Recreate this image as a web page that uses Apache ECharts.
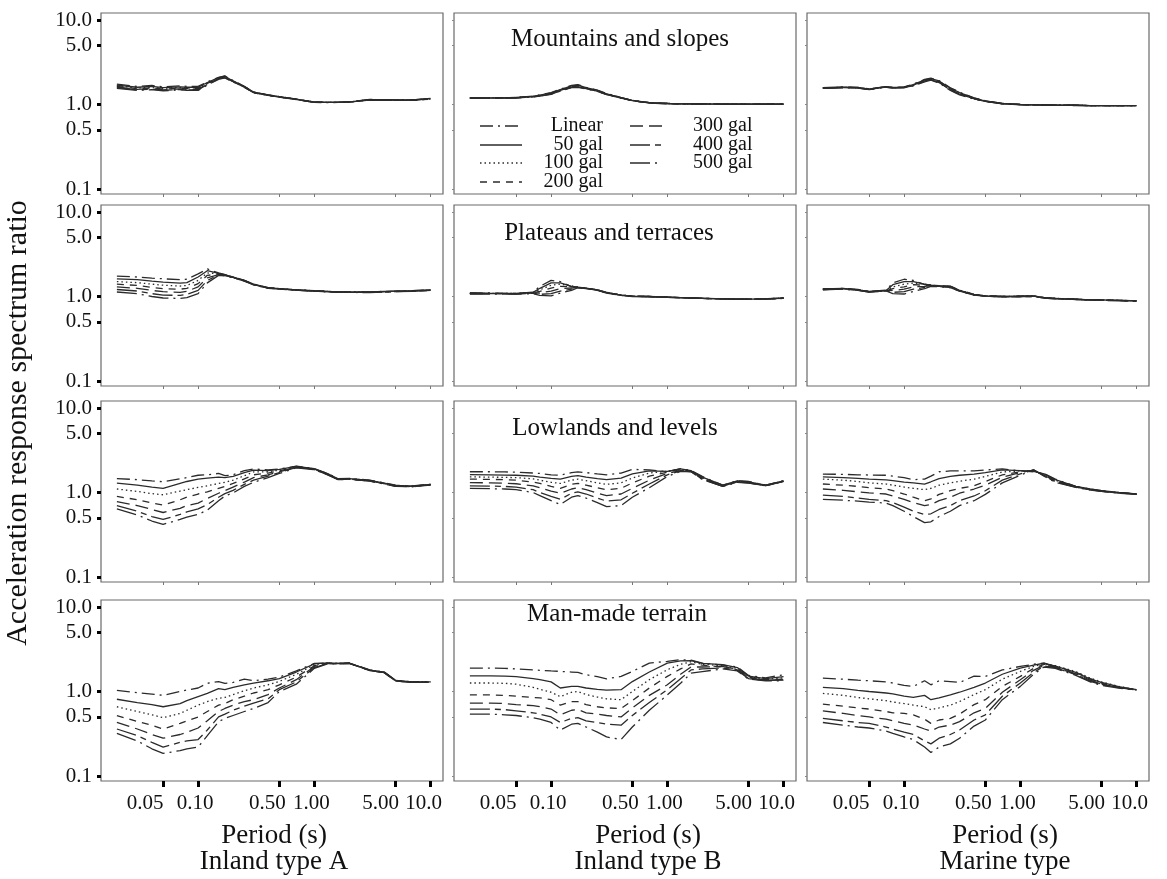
<!DOCTYPE html>
<html>
<head>
<meta charset="utf-8">
<script src="https://cdn.jsdelivr.net/npm/echarts@6/dist/echarts.min.js"></script>
<style>
  html, body { margin: 0; padding: 0; background: #fff; }
  #main { width: 1167px; height: 879px; }
</style>
</head>
<body>
<div id="main"></div>
<script>
const periods = [0.02, 0.03, 0.04, 0.05, 0.07, 0.08, 0.1, 0.12, 0.15, 0.17, 0.2, 0.25, 0.3, 0.4, 0.5, 0.7, 1.0, 1.3, 1.6, 2, 3, 4, 5, 7, 10];
const levels = ['Linear', '50 gal', '100 gal', '200 gal', '300 gal', '400 gal', '500 gal'];
const terrains = ['Mountains and slopes', 'Plateaus and terraces', 'Lowlands and levels', 'Man-made terrain'];
const quakeTypes = ['Inland type A', 'Inland type B', 'Marine type'];
const xTickValues = [0.05, 0.1, 0.5, 1, 5, 10];
const xTickLabels = ['0.05', '0.10', '0.50', '1.00', '5.00', '10.0'];
const yTickValues = [0.1, 0.5, 1, 5, 10];
const yTickLabels = ['0.1', '0.5', '1.0', '5.0', '10.0'];

// spectrum ratios, one row per level (Linear, 50 ... 500 gal)
const mountainsA = [
  [1.74,1.64,1.68,1.62,1.66,1.64,1.64,1.85,2.10,2.18,1.92,1.64,1.41,1.30,1.24,1.16,1.07,1.06,1.06,1.07,1.15,1.14,1.13,1.13,1.18],
  [1.70,1.60,1.64,1.58,1.62,1.60,1.60,1.82,2.08,2.16,1.90,1.63,1.40,1.30,1.24,1.16,1.07,1.06,1.06,1.07,1.14,1.14,1.13,1.13,1.18],
  [1.67,1.57,1.61,1.55,1.59,1.57,1.57,1.80,2.06,2.14,1.89,1.62,1.40,1.29,1.23,1.15,1.07,1.06,1.06,1.07,1.14,1.13,1.13,1.13,1.17],
  [1.64,1.54,1.58,1.52,1.56,1.54,1.54,1.78,2.04,2.12,1.88,1.62,1.39,1.29,1.23,1.15,1.07,1.06,1.06,1.07,1.14,1.13,1.12,1.13,1.17],
  [1.61,1.51,1.55,1.49,1.53,1.51,1.51,1.75,2.02,2.10,1.87,1.61,1.39,1.29,1.23,1.15,1.06,1.06,1.06,1.07,1.14,1.13,1.12,1.12,1.17],
  [1.58,1.49,1.52,1.47,1.51,1.49,1.49,1.73,2.00,2.08,1.86,1.60,1.38,1.28,1.22,1.15,1.06,1.06,1.06,1.07,1.13,1.13,1.12,1.12,1.16],
  [1.55,1.47,1.50,1.45,1.49,1.47,1.47,1.70,1.98,2.06,1.85,1.60,1.38,1.28,1.22,1.14,1.06,1.05,1.06,1.07,1.13,1.12,1.12,1.12,1.16]
];
const mountainsB = [
  [1.20,1.20,1.20,1.21,1.26,1.30,1.38,1.52,1.68,1.72,1.60,1.48,1.35,1.21,1.12,1.05,1.03,1.02,1.02,1.02,1.01,1.01,1.01,1.01,1.01],
  [1.20,1.20,1.20,1.21,1.25,1.29,1.37,1.50,1.66,1.70,1.58,1.47,1.34,1.21,1.12,1.05,1.03,1.02,1.02,1.02,1.01,1.01,1.01,1.01,1.01],
  [1.20,1.20,1.20,1.21,1.25,1.28,1.36,1.49,1.64,1.68,1.57,1.46,1.33,1.20,1.12,1.05,1.03,1.02,1.02,1.02,1.01,1.01,1.01,1.01,1.01],
  [1.20,1.20,1.20,1.21,1.24,1.27,1.35,1.47,1.62,1.66,1.56,1.45,1.33,1.20,1.11,1.05,1.03,1.02,1.02,1.02,1.01,1.01,1.01,1.01,1.01],
  [1.19,1.19,1.20,1.20,1.24,1.27,1.34,1.46,1.61,1.64,1.55,1.44,1.32,1.20,1.11,1.05,1.03,1.02,1.02,1.02,1.01,1.01,1.01,1.01,1.01],
  [1.19,1.19,1.19,1.20,1.23,1.26,1.33,1.45,1.60,1.62,1.54,1.44,1.32,1.19,1.11,1.04,1.02,1.02,1.02,1.01,1.01,1.01,1.01,1.01,1.01],
  [1.19,1.19,1.19,1.20,1.23,1.26,1.32,1.44,1.58,1.60,1.53,1.43,1.31,1.19,1.11,1.04,1.02,1.02,1.01,1.01,1.01,1.01,1.01,1.01,1.01]
];
const mountainsM = [
  [1.58,1.61,1.59,1.53,1.63,1.59,1.62,1.74,1.98,2.05,1.92,1.58,1.40,1.20,1.11,1.03,1.00,0.99,0.99,0.98,0.98,0.97,0.97,0.97,0.97],
  [1.58,1.61,1.59,1.52,1.63,1.59,1.61,1.72,1.96,2.03,1.90,1.56,1.38,1.19,1.10,1.03,1.00,0.99,0.99,0.98,0.98,0.97,0.97,0.97,0.97],
  [1.57,1.60,1.58,1.52,1.62,1.58,1.60,1.71,1.94,2.02,1.88,1.54,1.37,1.19,1.10,1.02,1.00,0.99,0.99,0.98,0.98,0.97,0.97,0.97,0.97],
  [1.57,1.60,1.58,1.52,1.62,1.58,1.60,1.70,1.92,2.00,1.86,1.52,1.35,1.18,1.10,1.02,1.00,0.99,0.99,0.98,0.98,0.97,0.97,0.97,0.97],
  [1.56,1.59,1.57,1.51,1.61,1.57,1.59,1.69,1.90,1.98,1.84,1.50,1.33,1.17,1.09,1.02,1.00,0.99,0.99,0.98,0.98,0.97,0.97,0.97,0.97],
  [1.56,1.59,1.57,1.51,1.61,1.57,1.58,1.67,1.88,1.96,1.82,1.49,1.32,1.17,1.09,1.02,1.00,0.99,0.98,0.98,0.98,0.97,0.97,0.97,0.97],
  [1.55,1.58,1.56,1.50,1.60,1.56,1.58,1.66,1.85,1.94,1.80,1.47,1.30,1.16,1.09,1.02,0.99,0.99,0.98,0.98,0.97,0.97,0.97,0.97,0.97]
];
const plateausA = [
  [1.74,1.70,1.65,1.62,1.58,1.60,1.85,2.12,1.90,1.82,1.70,1.55,1.40,1.27,1.24,1.20,1.17,1.15,1.13,1.13,1.13,1.15,1.16,1.17,1.20],
  [1.62,1.58,1.52,1.48,1.44,1.46,1.70,2.02,1.88,1.81,1.70,1.55,1.40,1.27,1.24,1.20,1.17,1.15,1.13,1.13,1.13,1.15,1.16,1.17,1.20],
  [1.50,1.46,1.40,1.36,1.33,1.35,1.55,1.90,1.86,1.80,1.69,1.54,1.39,1.27,1.24,1.20,1.17,1.15,1.13,1.13,1.13,1.14,1.15,1.17,1.19],
  [1.40,1.35,1.28,1.24,1.22,1.25,1.42,1.78,1.84,1.79,1.69,1.54,1.39,1.26,1.23,1.20,1.16,1.14,1.13,1.12,1.12,1.14,1.15,1.16,1.19],
  [1.30,1.25,1.18,1.14,1.12,1.15,1.30,1.66,1.82,1.78,1.68,1.53,1.38,1.26,1.23,1.19,1.16,1.14,1.12,1.12,1.12,1.14,1.15,1.16,1.18],
  [1.21,1.16,1.08,1.04,1.03,1.06,1.18,1.55,1.80,1.77,1.68,1.53,1.38,1.26,1.23,1.19,1.16,1.14,1.12,1.12,1.12,1.13,1.14,1.16,1.18],
  [1.13,1.08,1.00,0.96,0.95,0.97,1.08,1.45,1.78,1.76,1.67,1.52,1.37,1.25,1.22,1.19,1.16,1.14,1.12,1.12,1.11,1.13,1.14,1.15,1.18]
];
const plateausB = [
  [1.10,1.10,1.09,1.09,1.13,1.32,1.55,1.50,1.30,1.29,1.26,1.20,1.12,1.04,1.01,1.00,0.98,0.97,0.96,0.95,0.94,0.93,0.93,0.94,0.96],
  [1.10,1.09,1.09,1.09,1.12,1.25,1.45,1.45,1.32,1.29,1.26,1.20,1.12,1.04,1.01,1.00,0.98,0.97,0.96,0.95,0.94,0.93,0.93,0.94,0.96],
  [1.09,1.09,1.09,1.09,1.12,1.20,1.36,1.40,1.34,1.29,1.25,1.20,1.12,1.04,1.01,1.00,0.98,0.97,0.96,0.95,0.94,0.93,0.93,0.94,0.96],
  [1.09,1.09,1.08,1.08,1.11,1.15,1.26,1.32,1.30,1.28,1.25,1.19,1.11,1.04,1.01,1.00,0.98,0.97,0.96,0.95,0.94,0.93,0.93,0.94,0.96],
  [1.08,1.08,1.08,1.08,1.10,1.10,1.16,1.24,1.26,1.28,1.25,1.19,1.11,1.03,1.01,1.00,0.98,0.97,0.96,0.95,0.94,0.93,0.93,0.94,0.95],
  [1.08,1.08,1.08,1.07,1.09,1.06,1.08,1.16,1.22,1.27,1.24,1.19,1.11,1.03,1.01,0.99,0.98,0.97,0.96,0.95,0.94,0.93,0.93,0.94,0.95],
  [1.07,1.07,1.07,1.07,1.08,1.03,1.02,1.10,1.18,1.27,1.24,1.18,1.10,1.03,1.00,0.99,0.98,0.97,0.96,0.95,0.94,0.93,0.93,0.93,0.95]
];
const plateausM = [
  [1.23,1.25,1.21,1.15,1.19,1.45,1.60,1.55,1.38,1.36,1.34,1.33,1.19,1.06,1.02,1.00,1.01,1.02,0.97,0.95,0.93,0.91,0.91,0.90,0.89],
  [1.23,1.25,1.20,1.15,1.18,1.38,1.50,1.50,1.40,1.36,1.34,1.32,1.18,1.05,1.02,1.00,1.01,1.02,0.97,0.95,0.93,0.91,0.91,0.90,0.89],
  [1.22,1.24,1.20,1.14,1.18,1.30,1.40,1.44,1.40,1.36,1.33,1.31,1.18,1.05,1.02,1.00,1.01,1.01,0.97,0.95,0.93,0.91,0.91,0.90,0.89],
  [1.22,1.24,1.20,1.14,1.17,1.24,1.30,1.38,1.36,1.35,1.33,1.30,1.17,1.05,1.02,1.00,1.00,1.01,0.97,0.95,0.93,0.91,0.91,0.90,0.89],
  [1.21,1.23,1.19,1.14,1.17,1.18,1.22,1.30,1.32,1.34,1.32,1.29,1.17,1.05,1.01,1.00,1.00,1.01,0.96,0.95,0.93,0.91,0.90,0.90,0.89],
  [1.21,1.23,1.19,1.13,1.16,1.12,1.14,1.22,1.28,1.33,1.32,1.28,1.16,1.04,1.01,0.99,1.00,1.00,0.96,0.94,0.92,0.91,0.90,0.90,0.88],
  [1.20,1.22,1.18,1.13,1.16,1.08,1.07,1.15,1.24,1.32,1.31,1.27,1.16,1.04,1.01,0.99,1.00,1.00,0.96,0.94,0.92,0.91,0.90,0.89,0.88]
];
const lowlandsA = [
  [1.46,1.42,1.37,1.34,1.45,1.50,1.60,1.62,1.68,1.58,1.62,1.82,1.90,1.85,1.90,2.05,1.92,1.68,1.46,1.47,1.40,1.30,1.22,1.20,1.26],
  [1.29,1.22,1.16,1.12,1.28,1.35,1.44,1.48,1.52,1.50,1.55,1.72,1.84,1.82,1.88,2.04,1.91,1.67,1.45,1.46,1.39,1.29,1.21,1.19,1.25],
  [1.10,1.03,0.97,0.94,1.04,1.08,1.15,1.20,1.28,1.32,1.40,1.58,1.75,1.76,1.84,2.03,1.90,1.66,1.44,1.46,1.39,1.28,1.20,1.19,1.24],
  [0.90,0.82,0.75,0.71,0.82,0.88,0.96,1.02,1.12,1.18,1.28,1.45,1.62,1.70,1.80,2.02,1.89,1.65,1.44,1.45,1.38,1.28,1.20,1.18,1.24],
  [0.78,0.70,0.63,0.58,0.65,0.70,0.75,0.85,0.98,1.05,1.16,1.33,1.50,1.62,1.76,2.00,1.88,1.64,1.43,1.44,1.37,1.27,1.19,1.18,1.23],
  [0.70,0.60,0.52,0.48,0.55,0.59,0.64,0.72,0.88,0.97,1.06,1.25,1.40,1.56,1.72,1.98,1.87,1.63,1.43,1.44,1.37,1.27,1.19,1.17,1.23],
  [0.64,0.54,0.46,0.42,0.48,0.51,0.55,0.62,0.80,0.91,0.99,1.18,1.32,1.50,1.68,1.96,1.86,1.62,1.42,1.43,1.36,1.26,1.18,1.17,1.22]
];
const lowlandsB = [
  [1.76,1.76,1.75,1.74,1.70,1.68,1.62,1.60,1.72,1.75,1.72,1.66,1.62,1.70,1.88,1.85,1.76,1.92,1.82,1.55,1.22,1.38,1.35,1.22,1.38],
  [1.63,1.62,1.61,1.60,1.56,1.52,1.47,1.44,1.55,1.58,1.52,1.46,1.42,1.48,1.66,1.80,1.78,1.90,1.81,1.52,1.22,1.37,1.34,1.22,1.37],
  [1.53,1.52,1.51,1.50,1.45,1.40,1.32,1.28,1.40,1.44,1.38,1.30,1.25,1.30,1.48,1.70,1.78,1.88,1.80,1.50,1.21,1.36,1.33,1.21,1.37],
  [1.44,1.43,1.42,1.40,1.33,1.28,1.18,1.12,1.25,1.28,1.22,1.14,1.08,1.12,1.30,1.56,1.74,1.86,1.79,1.48,1.20,1.35,1.32,1.21,1.36],
  [1.31,1.30,1.29,1.27,1.20,1.14,1.04,0.98,1.10,1.14,1.08,0.98,0.92,0.96,1.12,1.40,1.68,1.82,1.78,1.46,1.19,1.34,1.31,1.21,1.36],
  [1.20,1.19,1.18,1.16,1.08,1.00,0.90,0.83,0.98,1.02,0.96,0.86,0.79,0.82,0.98,1.26,1.62,1.80,1.77,1.44,1.18,1.33,1.30,1.20,1.35],
  [1.12,1.11,1.10,1.08,1.00,0.92,0.80,0.72,0.88,0.92,0.86,0.76,0.68,0.70,0.88,1.14,1.55,1.78,1.76,1.42,1.18,1.32,1.29,1.20,1.35]
];
const lowlandsM = [
  [1.65,1.64,1.62,1.61,1.60,1.56,1.50,1.42,1.44,1.56,1.76,1.80,1.80,1.80,1.85,1.90,1.80,1.76,1.68,1.44,1.18,1.10,1.05,1.00,0.96],
  [1.53,1.50,1.47,1.44,1.41,1.38,1.33,1.30,1.26,1.34,1.46,1.55,1.60,1.65,1.72,1.85,1.82,1.78,1.66,1.42,1.18,1.10,1.05,1.00,0.96],
  [1.44,1.40,1.35,1.30,1.26,1.22,1.16,1.12,1.08,1.12,1.22,1.30,1.36,1.44,1.55,1.75,1.80,1.80,1.64,1.40,1.17,1.09,1.04,1.00,0.96],
  [1.26,1.22,1.18,1.14,1.10,1.05,0.96,0.88,0.80,0.84,0.95,1.05,1.12,1.20,1.35,1.62,1.76,1.82,1.62,1.38,1.17,1.09,1.04,0.99,0.96],
  [1.10,1.06,1.02,0.99,0.96,0.91,0.83,0.76,0.70,0.72,0.80,0.88,0.98,1.10,1.22,1.52,1.72,1.84,1.60,1.36,1.16,1.08,1.04,0.99,0.95],
  [0.93,0.90,0.86,0.83,0.80,0.76,0.67,0.60,0.55,0.56,0.63,0.70,0.80,0.91,1.05,1.40,1.66,1.85,1.58,1.34,1.16,1.08,1.03,0.99,0.95],
  [0.83,0.81,0.79,0.77,0.75,0.70,0.60,0.52,0.44,0.45,0.52,0.60,0.70,0.80,0.95,1.30,1.60,1.86,1.56,1.32,1.15,1.07,1.03,0.98,0.95]
];
const manmadeA = [
  [1.03,0.97,0.93,0.90,1.00,1.04,1.10,1.25,1.31,1.25,1.28,1.40,1.34,1.40,1.48,1.75,2.15,2.18,2.15,2.18,1.80,1.70,1.36,1.30,1.31],
  [0.81,0.74,0.70,0.66,0.72,0.78,0.87,0.95,1.08,1.05,1.12,1.20,1.26,1.34,1.42,1.70,2.12,2.18,2.15,2.17,1.79,1.69,1.35,1.30,1.30],
  [0.66,0.58,0.53,0.49,0.55,0.60,0.69,0.76,0.83,0.85,0.92,1.02,1.10,1.20,1.32,1.60,2.08,2.17,2.14,2.17,1.79,1.69,1.35,1.29,1.30],
  [0.52,0.44,0.40,0.36,0.42,0.45,0.50,0.58,0.69,0.72,0.80,0.88,0.96,1.05,1.20,1.48,2.02,2.16,2.14,2.16,1.78,1.68,1.34,1.29,1.29],
  [0.43,0.36,0.31,0.28,0.31,0.33,0.37,0.45,0.58,0.63,0.69,0.76,0.80,0.92,1.10,1.38,1.98,2.15,2.13,2.16,1.78,1.68,1.34,1.28,1.29],
  [0.36,0.30,0.25,0.22,0.25,0.26,0.27,0.35,0.50,0.54,0.60,0.67,0.73,0.82,1.05,1.30,1.92,2.14,2.13,2.15,1.77,1.67,1.33,1.28,1.28],
  [0.32,0.26,0.21,0.185,0.20,0.21,0.22,0.30,0.44,0.48,0.52,0.58,0.63,0.74,1.00,1.22,1.88,2.13,2.12,2.15,1.77,1.67,1.33,1.28,1.28]
];
const manmadeB = [
  [1.89,1.89,1.88,1.85,1.80,1.78,1.75,1.73,1.70,1.68,1.58,1.50,1.41,1.51,1.73,2.17,2.27,2.38,2.35,2.17,2.05,1.95,1.55,1.45,1.58],
  [1.53,1.53,1.52,1.50,1.42,1.38,1.30,1.10,1.15,1.15,1.10,1.06,1.04,1.05,1.31,1.70,2.17,2.30,2.32,2.15,2.08,1.92,1.52,1.42,1.50],
  [1.26,1.26,1.25,1.22,1.12,1.06,0.98,0.87,0.98,1.00,0.92,0.86,0.82,0.80,1.00,1.38,1.81,2.10,2.25,2.10,2.02,1.88,1.50,1.40,1.45],
  [0.91,0.91,0.90,0.88,0.85,0.84,0.80,0.69,0.76,0.76,0.70,0.66,0.64,0.63,0.78,1.10,1.51,1.85,2.12,2.05,1.95,1.85,1.48,1.38,1.40],
  [0.73,0.73,0.72,0.70,0.68,0.66,0.62,0.53,0.60,0.61,0.56,0.54,0.52,0.50,0.64,0.90,1.20,1.60,1.95,1.95,1.98,1.80,1.45,1.36,1.38],
  [0.62,0.62,0.61,0.59,0.56,0.54,0.50,0.43,0.48,0.49,0.45,0.43,0.41,0.40,0.52,0.74,1.05,1.42,1.80,1.85,1.90,1.78,1.42,1.35,1.36],
  [0.54,0.54,0.53,0.52,0.49,0.47,0.43,0.35,0.41,0.42,0.38,0.33,0.29,0.27,0.38,0.60,0.91,1.25,1.65,1.72,1.85,1.75,1.40,1.34,1.34]
];
const manmadeM = [
  [1.44,1.40,1.36,1.34,1.30,1.26,1.18,1.15,1.34,1.20,1.34,1.31,1.28,1.52,1.51,1.80,1.98,2.10,2.17,1.95,1.60,1.35,1.22,1.12,1.05],
  [1.12,1.08,1.03,1.00,0.96,0.94,0.88,0.85,0.90,0.80,0.84,0.91,0.98,1.12,1.26,1.60,1.89,2.05,2.16,2.00,1.68,1.40,1.28,1.14,1.05],
  [0.95,0.90,0.85,0.82,0.78,0.75,0.72,0.69,0.66,0.61,0.64,0.69,0.76,0.92,1.05,1.40,1.73,1.98,2.14,2.02,1.72,1.44,1.30,1.15,1.05],
  [0.71,0.67,0.64,0.62,0.58,0.56,0.55,0.53,0.47,0.42,0.46,0.48,0.54,0.70,0.80,1.15,1.51,1.88,2.10,2.00,1.68,1.42,1.26,1.13,1.05],
  [0.59,0.55,0.52,0.50,0.47,0.45,0.42,0.40,0.36,0.34,0.38,0.40,0.44,0.56,0.63,0.98,1.38,1.78,2.05,1.95,1.62,1.36,1.22,1.12,1.05],
  [0.48,0.45,0.43,0.42,0.38,0.36,0.33,0.31,0.26,0.24,0.28,0.31,0.35,0.46,0.53,0.88,1.26,1.68,2.00,1.92,1.58,1.32,1.20,1.11,1.04],
  [0.43,0.40,0.38,0.37,0.34,0.32,0.29,0.27,0.22,0.19,0.22,0.24,0.28,0.39,0.46,0.80,1.15,1.60,1.95,1.88,1.55,1.30,1.18,1.10,1.04]
];

const panels = [
  [mountainsA, mountainsB, mountainsM],
  [plateausA, plateausB, plateausM],
  [lowlandsA, lowlandsB, lowlandsM],
  [manmadeA, manmadeB, manmadeM]
];

// layout / style
const FONT = "'Liberation Serif', 'Times New Roman', serif";
const INK = '#2b2b2b';
const dashes = ['solid', 'solid', 'solid', 'solid', 'solid', 'solid', 'solid'];
dashes[0] = [13, 5, 2, 5];
dashes[2] = [1.5, 3];
dashes[3] = [7, 6];
dashes[4] = [13, 6];
dashes[5] = [20, 5, 6, 5];
dashes[6] = [20, 5, 2, 5];
const colLeft = [101, 454, 807];
const rowTop = [13, 205, 401, 600];
const boxW = 342, boxH = 181;
const X_MIN = 0.0146, X_MAX = 12.8;
const Y_MIN = 0.0873, Y_MAX = 12.1;
// tick labels on the period axis sit a little left of their ticks (px)
const xLabelShift = [-18, -3, -12, -3, -15, -7];

function findIndex(values, v) {
  for (let i = 0; i < values.length; i++) {
    if (Math.abs(Math.log10(v) - Math.log10(values[i])) < 1e-6) return i;
  }
  return -1;
}

const xRich = {};
xLabelShift.forEach(function (s, i) {
  xRich['s' + i] = {
    fontFamily: FONT, fontSize: 21, color: '#111',
    padding: [0, s < 0 ? -2 * s : 0, 0, s > 0 ? 2 * s : 0]
  };
});

const grids = [], xAxes = [], yAxes = [], series = [];
panels.forEach(function (row, r) {
  row.forEach(function (panel, c) {
    const idx = grids.length;
    const bottomRow = r === panels.length - 1;
    const firstCol = c === 0;
    grids.push({
      left: colLeft[c], top: rowTop[r], width: boxW, height: boxH,
      show: true, borderColor: '#6a6a6a', borderWidth: 1.2, backgroundColor: 'transparent'
    });
    xAxes.push({
      type: 'log', logBase: 10, gridIndex: idx, min: X_MIN, max: X_MAX,
      axisLine: { show: false },
      splitLine: { show: false },
      axisTick: {
        show: true, customValues: xTickValues,
        length: bottomRow ? 6 : 3,
        lineStyle: { color: bottomRow ? '#000' : '#777', width: bottomRow ? 3 : 1 }
      },
      axisLabel: {
        show: bottomRow, customValues: xTickValues,
        formatter: function (v) {
          const i = findIndex(xTickValues, v);
          return i < 0 ? '' : '{s' + i + '|' + xTickLabels[i] + '}';
        },
        rich: xRich,
        fontFamily: FONT, fontSize: 21, color: '#111', margin: 12
      }
    });
    yAxes.push({
      type: 'log', logBase: 10, gridIndex: idx, min: Y_MIN, max: Y_MAX,
      axisLine: { show: false },
      splitLine: { show: false },
      axisTick: {
        show: true, customValues: yTickValues,
        length: firstCol ? 4 : 2,
        lineStyle: { color: firstCol ? '#000' : '#888', width: firstCol ? 3 : 1 }
      },
      axisLabel: {
        show: firstCol, customValues: yTickValues,
        formatter: function (v) {
          const i = findIndex(yTickValues, v);
          return i < 0 ? '' : yTickLabels[i];
        },
        fontFamily: FONT, fontSize: 21, color: '#111', margin: 9
      }
    });
    panel.forEach(function (vals, k) {
      series.push({
        name: levels[k], type: 'line', xAxisIndex: idx, yAxisIndex: idx,
        showSymbol: false, symbol: 'none', silent: true,
        data: periods.map(function (p, i) { return [p, vals[i]]; }),
        lineStyle: { color: INK, width: 1.3, type: dashes[k] }
      });
    });
  });
});

// text and legend drawn as graphics
const graphics = [];
graphics.push({
  type: 'text', x: 18, y: 423, rotation: Math.PI / 2,
  style: { text: 'Acceleration response spectrum ratio', font: '30px ' + FONT, fill: '#111', textAlign: 'center', textVerticalAlign: 'middle' }
});
const titlePos = [[620, 39], [609, 233], [615, 428], [617, 614]];
terrains.forEach(function (t, r) {
  graphics.push({
    type: 'text', x: titlePos[r][0], y: titlePos[r][1],
    style: { text: t, font: '25px ' + FONT, fill: '#111', textAlign: 'center', textVerticalAlign: 'middle' }
  });
});
const colTitleX = [274, 648, 1005];
quakeTypes.forEach(function (t, c) {
  graphics.push({
    type: 'text', x: colTitleX[c], y: 836,
    style: { text: 'Period (s)', font: '27px ' + FONT, fill: '#111', textAlign: 'center', textVerticalAlign: 'middle' }
  });
  graphics.push({
    type: 'text', x: colTitleX[c], y: 862,
    style: { text: t, font: '27px ' + FONT, fill: '#111', textAlign: 'center', textVerticalAlign: 'middle' }
  });
});
// legend: left column Linear..200 gal, right column 300..500 gal
const legendRows = [126, 145, 163, 182];
levels.forEach(function (name, k) {
  const left = k < 4;
  const y = legendRows[left ? k : k - 4];
  const x1 = left ? 480 : 630, x2 = left ? 522 : 662;
  graphics.push({
    type: 'line', shape: { x1: x1, y1: y, x2: x2, y2: y },
    style: { stroke: INK, lineWidth: 1.3, lineDash: dashes[k] === 'solid' ? null : dashes[k] }
  });
  graphics.push({
    type: 'text', x: left ? 603 : 693, y: y,
    style: { text: name, font: '20px ' + FONT, fill: '#111', textAlign: left ? 'right' : 'left', textVerticalAlign: 'middle' }
  });
});

const chart = echarts.init(document.getElementById('main'));
chart.setOption({
  animation: false,
  backgroundColor: '#fff',
  grid: grids,
  xAxis: xAxes,
  yAxis: yAxes,
  series: series,
  graphic: graphics
});
</script>
</body>
</html>
